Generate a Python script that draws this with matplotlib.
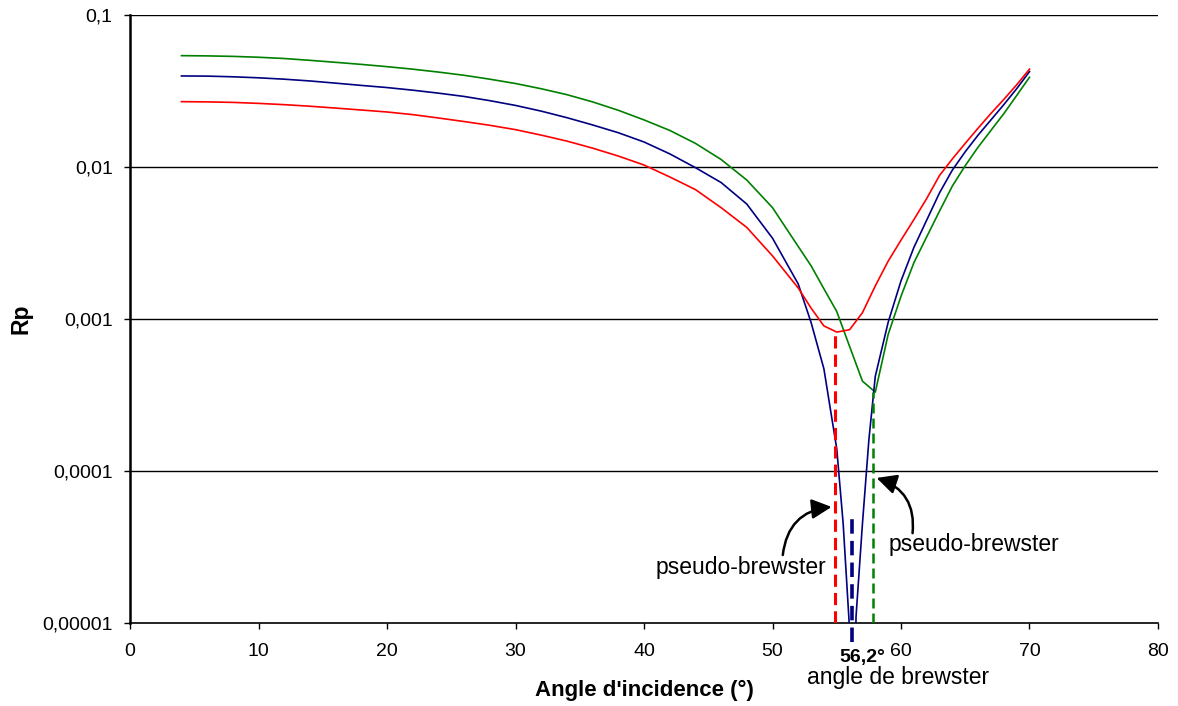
import matplotlib
matplotlib.use("Agg")
import matplotlib.pyplot as plt

plt.rcParams['font.family'] = ['Liberation Sans', 'DejaVu Sans']

# Angles d'incidence (degres)
angles = [4, 6, 8, 10, 12, 14, 16, 18, 20, 22, 24, 26, 28, 30, 32, 34, 36, 38,
          40, 42, 44, 46, 48, 50, 52, 53, 54, 55, 56, 57, 58, 59, 60, 61, 62,
          63, 64, 65, 66, 67, 68, 69, 70]
angles_blue = [4, 6, 8, 10, 12, 14, 16, 18, 20, 22, 24, 26, 28, 30, 32, 34, 36,
               38, 40, 42, 44, 46, 48, 50, 52, 53, 54, 55, 55.5, 56, 56.2, 56.5,
               57, 57.5, 58, 59, 60, 61, 62, 63, 64, 65, 66, 67, 68, 69, 70]

rp_red = [0.0269, 0.0268, 0.0266, 0.0262, 0.0257, 0.0251, 0.0244, 0.0237,
          0.0230, 0.0221, 0.0210, 0.0199, 0.0188, 0.0176, 0.0162, 0.0148,
          0.0133, 0.0118, 0.0103, 0.0086, 0.0071, 0.0054, 0.0040, 0.0026,
          0.0016, 0.00118, 0.00090, 0.00082, 0.00085, 0.00110, 0.00165,
          0.0024, 0.0033, 0.0045, 0.0062, 0.0088, 0.0113, 0.0143, 0.0180,
          0.0225, 0.0278, 0.0347, 0.0440]

rp_green = [0.0540, 0.0538, 0.0534, 0.0527, 0.0517, 0.0503, 0.0488, 0.0473,
            0.0457, 0.0440, 0.0421, 0.0401, 0.0378, 0.0354, 0.0327, 0.0299,
            0.0268, 0.0236, 0.0204, 0.0174, 0.0143, 0.0112, 0.0082, 0.0054,
            0.0030, 0.00224, 0.00158, 0.00112, 0.00066, 0.00039, 0.00033,
            0.00079, 0.00141, 0.00234, 0.00347, 0.00513, 0.0075, 0.0102,
            0.0135, 0.0174, 0.0224, 0.0295, 0.0389]

rp_blue = [0.0397, 0.0396, 0.0392, 0.0386, 0.0378, 0.0368, 0.0356, 0.0344,
           0.0333, 0.0320, 0.0306, 0.0291, 0.0273, 0.0254, 0.0233, 0.0211,
           0.0189, 0.0168, 0.0146, 0.0122, 0.0099, 0.0079, 0.0057, 0.0034,
           0.0017, 0.00095, 0.00047, 0.00014, 4.5e-5, 9e-6, 1e-7, 1.1e-5,
           4.5e-5, 1.6e-4, 4.2e-4, 0.00095, 0.00178, 0.00295, 0.00447,
           0.00676, 0.00955, 0.0126, 0.0162, 0.0204, 0.0257, 0.0327, 0.0424]

# angles de Brewster / pseudo-Brewster et minima
brewster_red, min_red = 54.9, 0.00082
brewster_green, min_green = 57.8, 0.00033
brewster_blue = 56.2

yticks = [1e-5, 1e-4, 1e-3, 1e-2, 1e-1]
ytick_labels = ["0,00001", "0,0001", "0,001", "0,01", "0,1"]
xticks = [0, 10, 20, 30, 40, 50, 60, 70, 80]

fig = plt.figure(figsize=(11.78, 7.06), dpi=100)
ax = fig.add_axes([0.1104, 0.1176, 0.8726, 0.8612])

ax.set_yscale("log")
ax.set_xlim(0, 80)
ax.set_ylim(1e-5, 0.1)

for v in yticks[1:]:
    ax.axhline(v, color="black", lw=1.0, zorder=1)

ax.plot(angles, rp_green, color="#008000", lw=1.2, zorder=3)
ax.plot(angles_blue, rp_blue, color="#000080", lw=1.2, zorder=3)
ax.plot(angles, rp_red, color="#FF0000", lw=1.2, zorder=3)

# lignes verticales en pointilles
ax.plot([brewster_red, brewster_red], [1e-5, min_red], color="#FF0000",
        lw=2.2, ls=(0, (4, 2)), zorder=4)
ax.plot([brewster_green, brewster_green], [1e-5, min_green], color="#008000",
        lw=1.8, ls=(0, (4, 2)), zorder=4)
ax.plot([brewster_blue, brewster_blue], [7.5e-6, 5e-5], color="#000080",
        lw=2.6, ls=(0, (4, 2)), zorder=4, clip_on=False)

ax.set_yticks(yticks)
ax.set_yticklabels(ytick_labels)
ax.set_xticks(xticks)
ax.minorticks_off()
ax.tick_params(axis="y", direction="out", length=4.5, width=1, pad=8, labelsize=14)
ax.tick_params(axis="x", direction="out", length=4.5, width=1, pad=10, labelsize=14)

for s in ["top", "right"]:
    ax.spines[s].set_visible(False)
ax.spines["left"].set_linewidth(1.8)
ax.spines["bottom"].set_linewidth(1.2)

ax.set_xlabel("Angle d'incidence (°)", fontsize=16, fontweight="bold")
ax.xaxis.set_label_coords(0.5, -0.094)
ax.set_ylabel("Rp", fontsize=16.5, fontweight="bold")
ax.yaxis.set_label_coords(-0.095, 0.5)

# annotations
trans = ax.get_xaxis_transform()
ax.text(57.0, -0.056, "56,2°", transform=trans, fontsize=14, fontweight="bold",
        ha="center", va="center")
ax.text(59.8, -0.0905, "angle de brewster", transform=trans, fontsize=16.5,
        ha="center", va="center")

ax.text(47.55, 2.3e-5, "pseudo-brewster", fontsize=16.5, ha="center", va="center")
ax.text(65.7, 3.26e-5, "pseudo-brewster", fontsize=16.5, ha="center", va="center")

ax.annotate("", xy=(54.6, 5.8e-5), xytext=(50.8, 2.8e-5),
            arrowprops=dict(arrowstyle="-|>", connectionstyle="arc3,rad=-0.4",
                            color="black", lw=1.8, mutation_scale=30,
                            shrinkA=0, shrinkB=0))
ax.annotate("", xy=(58.1, 9e-5), xytext=(60.9, 3.9e-5),
            arrowprops=dict(arrowstyle="-|>", connectionstyle="arc3,rad=0.4",
                            color="black", lw=1.8, mutation_scale=30,
                            shrinkA=0, shrinkB=0))

fig.savefig("out.png", dpi=100)
